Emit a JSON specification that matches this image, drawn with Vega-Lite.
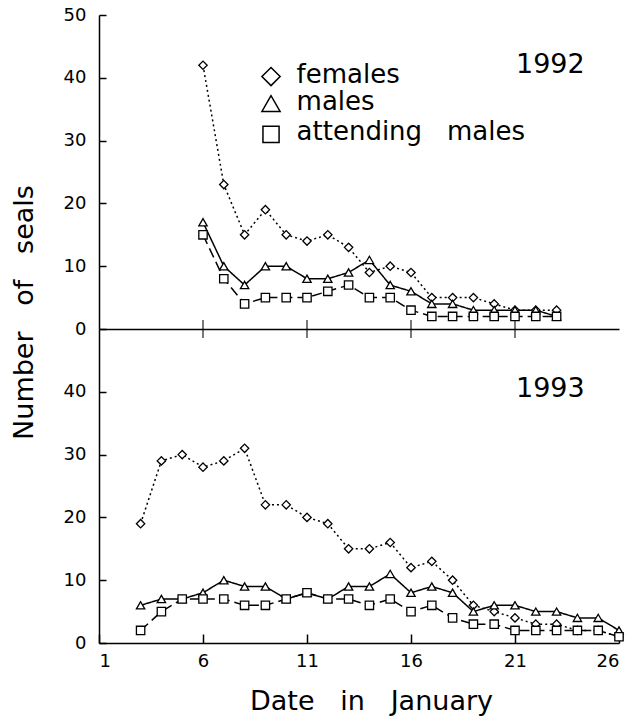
{
  "$schema": "https://vega.github.io/schema/vega-lite/v6.json",
  "padding": {"left": 10, "top": 6, "right": 5, "bottom": 5},
  "spacing": 0,
  "bounds": "flush",
  "background": "white",
  "config": {
    "view": {"stroke": null},
    "font": "DejaVu Sans",
    "axis": {"labelFont": "DejaVu Sans", "labelFontSize": 18, "labelColor": "black", "domainColor": "black", "tickColor": "black", "domainWidth": 1.5, "tickWidth": 1.5, "grid": false, "titleFont": "DejaVu Sans", "titleFontSize": 27, "titleFontWeight": "normal", "titleColor": "black"}
  },
  "datasets": {
    "seals": [
      {"year": 1992, "day": 6, "sex": "females", "n": 42},
      {"year": 1992, "day": 7, "sex": "females", "n": 23},
      {"year": 1992, "day": 8, "sex": "females", "n": 15},
      {"year": 1992, "day": 9, "sex": "females", "n": 19},
      {"year": 1992, "day": 10, "sex": "females", "n": 15},
      {"year": 1992, "day": 11, "sex": "females", "n": 14},
      {"year": 1992, "day": 12, "sex": "females", "n": 15},
      {"year": 1992, "day": 13, "sex": "females", "n": 13},
      {"year": 1992, "day": 14, "sex": "females", "n": 9},
      {"year": 1992, "day": 15, "sex": "females", "n": 10},
      {"year": 1992, "day": 16, "sex": "females", "n": 9},
      {"year": 1992, "day": 17, "sex": "females", "n": 5},
      {"year": 1992, "day": 18, "sex": "females", "n": 5},
      {"year": 1992, "day": 19, "sex": "females", "n": 5},
      {"year": 1992, "day": 20, "sex": "females", "n": 4},
      {"year": 1992, "day": 21, "sex": "females", "n": 3},
      {"year": 1992, "day": 22, "sex": "females", "n": 3},
      {"year": 1992, "day": 23, "sex": "females", "n": 3},
      {"year": 1992, "day": 6, "sex": "males", "n": 17},
      {"year": 1992, "day": 7, "sex": "males", "n": 10},
      {"year": 1992, "day": 8, "sex": "males", "n": 7},
      {"year": 1992, "day": 9, "sex": "males", "n": 10},
      {"year": 1992, "day": 10, "sex": "males", "n": 10},
      {"year": 1992, "day": 11, "sex": "males", "n": 8},
      {"year": 1992, "day": 12, "sex": "males", "n": 8},
      {"year": 1992, "day": 13, "sex": "males", "n": 9},
      {"year": 1992, "day": 14, "sex": "males", "n": 11},
      {"year": 1992, "day": 15, "sex": "males", "n": 7},
      {"year": 1992, "day": 16, "sex": "males", "n": 6},
      {"year": 1992, "day": 17, "sex": "males", "n": 4},
      {"year": 1992, "day": 18, "sex": "males", "n": 4},
      {"year": 1992, "day": 19, "sex": "males", "n": 3},
      {"year": 1992, "day": 20, "sex": "males", "n": 3},
      {"year": 1992, "day": 21, "sex": "males", "n": 3},
      {"year": 1992, "day": 22, "sex": "males", "n": 3},
      {"year": 1992, "day": 23, "sex": "males", "n": 2},
      {"year": 1992, "day": 6, "sex": "attending males", "n": 15},
      {"year": 1992, "day": 7, "sex": "attending males", "n": 8},
      {"year": 1992, "day": 8, "sex": "attending males", "n": 4},
      {"year": 1992, "day": 9, "sex": "attending males", "n": 5},
      {"year": 1992, "day": 10, "sex": "attending males", "n": 5},
      {"year": 1992, "day": 11, "sex": "attending males", "n": 5},
      {"year": 1992, "day": 12, "sex": "attending males", "n": 6},
      {"year": 1992, "day": 13, "sex": "attending males", "n": 7},
      {"year": 1992, "day": 14, "sex": "attending males", "n": 5},
      {"year": 1992, "day": 15, "sex": "attending males", "n": 5},
      {"year": 1992, "day": 16, "sex": "attending males", "n": 3},
      {"year": 1992, "day": 17, "sex": "attending males", "n": 2},
      {"year": 1992, "day": 18, "sex": "attending males", "n": 2},
      {"year": 1992, "day": 19, "sex": "attending males", "n": 2},
      {"year": 1992, "day": 20, "sex": "attending males", "n": 2},
      {"year": 1992, "day": 21, "sex": "attending males", "n": 2},
      {"year": 1992, "day": 22, "sex": "attending males", "n": 2},
      {"year": 1992, "day": 23, "sex": "attending males", "n": 2},
      {"year": 1993, "day": 3, "sex": "females", "n": 19},
      {"year": 1993, "day": 4, "sex": "females", "n": 29},
      {"year": 1993, "day": 5, "sex": "females", "n": 30},
      {"year": 1993, "day": 6, "sex": "females", "n": 28},
      {"year": 1993, "day": 7, "sex": "females", "n": 29},
      {"year": 1993, "day": 8, "sex": "females", "n": 31},
      {"year": 1993, "day": 9, "sex": "females", "n": 22},
      {"year": 1993, "day": 10, "sex": "females", "n": 22},
      {"year": 1993, "day": 11, "sex": "females", "n": 20},
      {"year": 1993, "day": 12, "sex": "females", "n": 19},
      {"year": 1993, "day": 13, "sex": "females", "n": 15},
      {"year": 1993, "day": 14, "sex": "females", "n": 15},
      {"year": 1993, "day": 15, "sex": "females", "n": 16},
      {"year": 1993, "day": 16, "sex": "females", "n": 12},
      {"year": 1993, "day": 17, "sex": "females", "n": 13},
      {"year": 1993, "day": 18, "sex": "females", "n": 10},
      {"year": 1993, "day": 19, "sex": "females", "n": 6},
      {"year": 1993, "day": 20, "sex": "females", "n": 5},
      {"year": 1993, "day": 21, "sex": "females", "n": 4},
      {"year": 1993, "day": 22, "sex": "females", "n": 3},
      {"year": 1993, "day": 23, "sex": "females", "n": 3},
      {"year": 1993, "day": 24, "sex": "females", "n": 2},
      {"year": 1993, "day": 25, "sex": "females", "n": 2},
      {"year": 1993, "day": 26, "sex": "females", "n": 1},
      {"year": 1993, "day": 3, "sex": "males", "n": 6},
      {"year": 1993, "day": 4, "sex": "males", "n": 7},
      {"year": 1993, "day": 5, "sex": "males", "n": 7},
      {"year": 1993, "day": 6, "sex": "males", "n": 8},
      {"year": 1993, "day": 7, "sex": "males", "n": 10},
      {"year": 1993, "day": 8, "sex": "males", "n": 9},
      {"year": 1993, "day": 9, "sex": "males", "n": 9},
      {"year": 1993, "day": 10, "sex": "males", "n": 7},
      {"year": 1993, "day": 11, "sex": "males", "n": 8},
      {"year": 1993, "day": 12, "sex": "males", "n": 7},
      {"year": 1993, "day": 13, "sex": "males", "n": 9},
      {"year": 1993, "day": 14, "sex": "males", "n": 9},
      {"year": 1993, "day": 15, "sex": "males", "n": 11},
      {"year": 1993, "day": 16, "sex": "males", "n": 8},
      {"year": 1993, "day": 17, "sex": "males", "n": 9},
      {"year": 1993, "day": 18, "sex": "males", "n": 8},
      {"year": 1993, "day": 19, "sex": "males", "n": 5},
      {"year": 1993, "day": 20, "sex": "males", "n": 6},
      {"year": 1993, "day": 21, "sex": "males", "n": 6},
      {"year": 1993, "day": 22, "sex": "males", "n": 5},
      {"year": 1993, "day": 23, "sex": "males", "n": 5},
      {"year": 1993, "day": 24, "sex": "males", "n": 4},
      {"year": 1993, "day": 25, "sex": "males", "n": 4},
      {"year": 1993, "day": 26, "sex": "males", "n": 2},
      {"year": 1993, "day": 3, "sex": "attending males", "n": 2},
      {"year": 1993, "day": 4, "sex": "attending males", "n": 5},
      {"year": 1993, "day": 5, "sex": "attending males", "n": 7},
      {"year": 1993, "day": 6, "sex": "attending males", "n": 7},
      {"year": 1993, "day": 7, "sex": "attending males", "n": 7},
      {"year": 1993, "day": 8, "sex": "attending males", "n": 6},
      {"year": 1993, "day": 9, "sex": "attending males", "n": 6},
      {"year": 1993, "day": 10, "sex": "attending males", "n": 7},
      {"year": 1993, "day": 11, "sex": "attending males", "n": 8},
      {"year": 1993, "day": 12, "sex": "attending males", "n": 7},
      {"year": 1993, "day": 13, "sex": "attending males", "n": 7},
      {"year": 1993, "day": 14, "sex": "attending males", "n": 6},
      {"year": 1993, "day": 15, "sex": "attending males", "n": 7},
      {"year": 1993, "day": 16, "sex": "attending males", "n": 5},
      {"year": 1993, "day": 17, "sex": "attending males", "n": 6},
      {"year": 1993, "day": 18, "sex": "attending males", "n": 4},
      {"year": 1993, "day": 19, "sex": "attending males", "n": 3},
      {"year": 1993, "day": 20, "sex": "attending males", "n": 3},
      {"year": 1993, "day": 21, "sex": "attending males", "n": 2},
      {"year": 1993, "day": 22, "sex": "attending males", "n": 2},
      {"year": 1993, "day": 23, "sex": "attending males", "n": 2},
      {"year": 1993, "day": 24, "sex": "attending males", "n": 2},
      {"year": 1993, "day": 25, "sex": "attending males", "n": 2},
      {"year": 1993, "day": 26, "sex": "attending males", "n": 1}
    ],
    "topticks": [{"day": 6}, {"day": 11}, {"day": 16}, {"day": 21}],
    "labels": [{"year": 1992, "label": "1992"}, {"year": 1993, "label": "1993"}],
    "legendrows": [{"sex": "females"}, {"sex": "males"}, {"sex": "attending males"}]
  },
  "vconcat": [
    {
      "width": 520,
      "height": 314,
      "layer": [
        {
          "data": {"name": "seals"},
          "transform": [{"filter": "datum.year == 1992"}],
          "mark": {"type": "line", "color": "black", "strokeWidth": 1.5},
          "encoding": {
            "x": {"field": "day", "type": "quantitative", "scale": {"domain": [1, 26], "nice": false, "zero": false},
                  "axis": {"values": [1, 6, 11, 16, 21, 26], "labels": false, "ticks": false, "title": null}},
            "y": {"field": "n", "type": "quantitative", "scale": {"domain": [0, 50], "nice": false},
                  "axis": {"values": [0, 10, 20, 30, 40, 50], "tickSize": -7, "labelPadding": 20,
                           "title": "Number\u00a0\u00a0\u00a0of\u00a0\u00a0\u00a0seals", "titleX": -75, "titleY": 297, "titleBaseline": "middle", "titleAlign": "center"}},
            "detail": {"field": "sex"},
            "strokeDash": {"field": "sex", "type": "nominal", "legend": null,
                           "scale": {"domain": ["attending males", "females", "males"], "range": [[10, 5], [2, 3], [1, 0]]}}
          }
        },
        {
          "data": {"name": "seals"},
          "transform": [{"filter": "datum.year == 1992"}],
          "mark": {"type": "point", "filled": false, "fill": "white", "color": "black", "strokeWidth": 1.3, "size": 70, "opacity": 1},
          "encoding": {
            "x": {"field": "day", "type": "quantitative"},
            "y": {"field": "n", "type": "quantitative"},
            "shape": {"field": "sex", "type": "nominal", "legend": null,
                      "scale": {"domain": ["females", "males", "attending males"], "range": ["diamond", "triangle-up", "square"]}}
          }
        },
        {
          "data": {"name": "topticks"},
          "mark": {"type": "tick", "orient": "vertical", "color": "black", "size": 18, "thickness": 1.5},
          "encoding": {"x": {"field": "day", "type": "quantitative"}, "y": {"datum": 0}}
        },
        {
          "data": {"name": "labels"},
          "transform": [{"filter": "datum.year == 1992"}],
          "mark": {"type": "text", "fontSize": 27, "font": "DejaVu Sans", "color": "black", "align": "center", "baseline": "middle"},
          "encoding": {"x": {"datum": 22.7}, "y": {"datum": 42}, "text": {"field": "label"}}
        },
        {
          "data": {"name": "legendrows"},
          "transform": [{"filter": "datum.sex == 'females'"}],
          "mark": {"type": "point", "filled": false, "fill": "white", "color": "black", "strokeWidth": 1.5, "size": 330, "opacity": 1},
          "encoding": {"x": {"datum": 9.27}, "y": {"datum": 40.2}, "shape": {"field": "sex", "type": "nominal", "legend": null}}
        },
        {
          "data": {"name": "legendrows"},
          "transform": [{"filter": "datum.sex == 'males'"}],
          "mark": {"type": "point", "filled": false, "fill": "white", "color": "black", "strokeWidth": 1.5, "size": 330, "opacity": 1},
          "encoding": {"x": {"datum": 9.27}, "y": {"datum": 35.9}, "shape": {"field": "sex", "type": "nominal", "legend": null}}
        },
        {
          "data": {"name": "legendrows"},
          "transform": [{"filter": "datum.sex == 'attending males'"}],
          "mark": {"type": "point", "filled": false, "fill": "white", "color": "black", "strokeWidth": 1.5, "size": 260, "opacity": 1},
          "encoding": {"x": {"datum": 9.27}, "y": {"datum": 31.0}, "shape": {"field": "sex", "type": "nominal", "legend": null}}
        },
        {
          "data": {"name": "legendrows"},
          "transform": [{"filter": "datum.sex == 'females'"}],
          "mark": {"type": "text", "fontSize": 26, "font": "DejaVu Sans", "color": "black", "align": "left", "baseline": "middle"},
          "encoding": {"x": {"datum": 10.5}, "y": {"datum": 40.4}, "text": {"field": "sex"}}
        },
        {
          "data": {"name": "legendrows"},
          "transform": [{"filter": "datum.sex == 'males'"}],
          "mark": {"type": "text", "fontSize": 26, "font": "DejaVu Sans", "color": "black", "align": "left", "baseline": "middle"},
          "encoding": {"x": {"datum": 10.5}, "y": {"datum": 36.1}, "text": {"field": "sex"}}
        },
        {
          "data": {"name": "legendrows"},
          "transform": [{"filter": "datum.sex == 'attending males'"}],
          "mark": {"type": "text", "fontSize": 26, "font": "DejaVu Sans", "color": "black", "align": "left", "baseline": "middle"},
          "encoding": {"x": {"datum": 10.5}, "y": {"datum": 31.3}, "text": {"value": "attending\u00a0\u00a0\u00a0males"}}
        }
      ]
    },
    {
      "width": 520,
      "height": 314,
      "layer": [
        {
          "data": {"name": "seals"},
          "transform": [{"filter": "datum.year == 1993"}],
          "mark": {"type": "line", "color": "black", "strokeWidth": 1.5},
          "encoding": {
            "x": {"field": "day", "type": "quantitative", "scale": {"domain": [1, 26], "nice": false, "zero": false},
                  "axis": {"values": [1, 6, 11, 16, 21, 26], "tickSize": -9, "labelPadding": 18, "title": "Date\u00a0\u00a0\u00a0in\u00a0\u00a0\u00a0January", "titlePadding": 18, "titleX": 272}},
            "y": {"field": "n", "type": "quantitative", "scale": {"domain": [0, 50], "nice": false},
                  "axis": {"values": [0, 10, 20, 30, 40], "tickSize": -7, "labelPadding": 20, "title": null}},
            "detail": {"field": "sex"},
            "strokeDash": {"field": "sex", "type": "nominal", "legend": null,
                           "scale": {"domain": ["attending males", "females", "males"], "range": [[10, 5], [2, 3], [1, 0]]}}
          }
        },
        {
          "data": {"name": "seals"},
          "transform": [{"filter": "datum.year == 1993"}],
          "mark": {"type": "point", "filled": false, "fill": "white", "color": "black", "strokeWidth": 1.3, "size": 70, "opacity": 1},
          "encoding": {
            "x": {"field": "day", "type": "quantitative"},
            "y": {"field": "n", "type": "quantitative"},
            "shape": {"field": "sex", "type": "nominal", "legend": null,
                      "scale": {"domain": ["females", "males", "attending males"], "range": ["diamond", "triangle-up", "square"]}}
          }
        },
        {
          "data": {"name": "labels"},
          "transform": [{"filter": "datum.year == 1993"}],
          "mark": {"type": "text", "fontSize": 27, "font": "DejaVu Sans", "color": "black", "align": "center", "baseline": "middle"},
          "encoding": {"x": {"datum": 22.7}, "y": {"datum": 40.5}, "text": {"field": "label"}}
        }
      ]
    }
  ]
}
